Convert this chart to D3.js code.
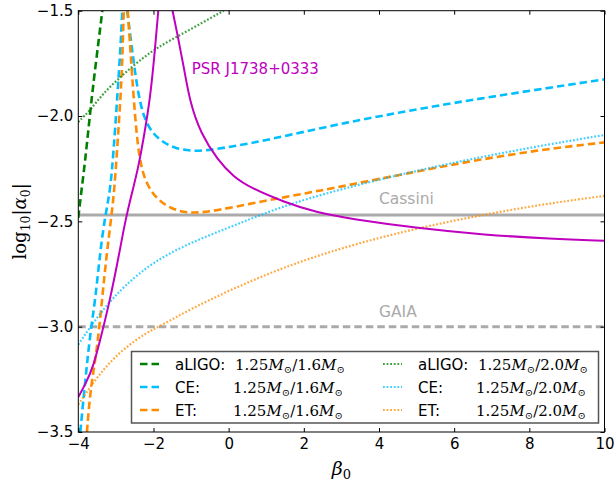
<!DOCTYPE html>
<html>
<head>
<meta charset="utf-8">
<script src="https://d3js.org/d3.v7.min.js"></script>
<style>
    body { margin: 0; background: #fff; }
    svg { display: block; font-family: "DejaVu Sans", sans-serif; }
    .axis path { display: none; }
    .axis line { stroke: #000; stroke-width: 1px; }
    .axis text { font-size: 15px; fill: #000; font-family: "DejaVu Sans", sans-serif; }
    .math { font-family: "DejaVu Serif", serif; }
</style>
</head>
<body>
<svg width="616" height="483"></svg>
<script>
// tick values
var xTicks = [-4, -2, 0, 2, 4, 6, 8, 10];
var yTicks = [-3.5, -3.0, -2.5, -2.0, -1.5];

// [beta0, log10|alpha0|], one array per branch
var aligo16 = [[-4, -2.483], [-3.947, -2.398], [-3.813, -2.209], [-3.68, -1.972], [-3.547, -1.768], [-3.36, -1.5]];
var aligo20 = [[-4, -2.028], [-3.68, -1.972], [-3.333, -1.891], [-2.88, -1.815], [-2.427, -1.744],
    [-1.893, -1.673], [-1.2, -1.607], [-0.133, -1.5]];

var ce16Left = [[-3.947, -3.5], [-3.813, -3.251], [-3.68, -3.028], [-3.547, -2.872], [-3.413, -2.635],
    [-3.28, -2.469], [-3.147, -2.351], [-3.059, -2.161], [-2.968, -1.924], [-2.88, -1.687], [-2.83, -1.5]];
var ce16Right = [[-2.70, -1.5], [-2.568, -1.687], [-2.392, -1.924], [-2.168, -2.052], [-1.813, -2.12],
    [-1.4, -2.155], [-0.94, -2.168], [-0.4, -2.16], [0.57, -2.13], [1.5, -2.095], [3.23, -2.027],
    [4.5, -1.985], [5.89, -1.94], [8, -1.88], [10, -1.826]];
var ce20 = [[-4, -3.085], [-3.68, -3.0], [-3.3, -2.91], [-2.8, -2.81], [-2.0, -2.69], [-1.0, -2.60],
    [0, -2.53], [0.83, -2.47], [2, -2.395], [4, -2.30], [6, -2.22], [8, -2.15], [10, -2.09]];

var et16Left = [[-3.77, -3.5], [-3.68, -3.299], [-3.501, -3.109], [-3.368, -2.872], [-3.235, -2.635],
    [-3.059, -2.398], [-2.968, -2.161], [-2.88, -1.924], [-2.835, -1.768], [-2.79, -1.5]];
var et16Right = [[-2.685, -1.5], [-2.613, -1.687], [-2.525, -1.924], [-2.392, -2.209], [-2.168, -2.336],
    [-1.813, -2.412], [-1.368, -2.452], [-0.9, -2.462], [-0.3, -2.448], [0.6, -2.415], [1.5, -2.385],
    [2.4, -2.355], [3.25, -2.326], [4.75, -2.272], [6.5, -2.212], [8.3, -2.16], [10, -2.125]];
var et20 = [[-4, -3.37], [-3.68, -3.285], [-3.3, -3.195], [-2.8, -3.105], [-2.2, -3.03], [-1.8, -2.995],
    [-1, -2.915], [0, -2.83], [1, -2.752], [2, -2.685], [3, -2.628], [4, -2.578], [5, -2.535],
    [6, -2.496], [7, -2.462], [8, -2.43], [9, -2.403], [10, -2.379]];

var psrLeft = [[-4, -3.334], [-3.795, -3.267], [-3.601, -3.191], [-3.377, -3.035], [-3.157, -2.873],
    [-2.917, -2.66], [-2.758, -2.503], [-2.571, -2.364], [-2.399, -2.242], [-2.239, -2.081],
    [-2.093, -1.924], [-1.96, -1.687], [-1.872, -1.5]];
var psrRight = [[-1.493, -1.5], [-1.368, -1.607], [-1.192, -1.768], [-1.03, -1.935], [-0.747, -2.081],
    [-0.293, -2.209], [0.133, -2.289], [0.587, -2.341], [1.467, -2.408], [2.373, -2.46], [3.253, -2.488],
    [5.04, -2.533], [6.8, -2.564], [8.587, -2.583], [10, -2.592]];

var cassini = -2.47;
var gaia = -3.0;

var svg = d3.select("svg"),
    margin = {top: 10.7, right: 11.5, bottom: 51, left: 78.3},
    width = +svg.attr("width") - margin.left - margin.right,
    height = +svg.attr("height") - margin.top - margin.bottom;

var x = d3.scaleLinear().domain([-4, 10]).range([0, width]);
var y = d3.scaleLinear().domain([-3.5, -1.5]).range([height, 0]);

var g = svg.append("g").attr("transform", "translate(" + margin.left + "," + margin.top + ")");

g.append("clipPath").attr("id", "clip")
    .append("rect").attr("width", width).attr("height", height);

var plot = g.append("g").attr("clip-path", "url(#clip)");

var line = d3.line()
    .x(function (d) { return x(d[0]); })
    .y(function (d) { return y(d[1]); })
    .curve(d3.curveBasis);

var dashed = "7.5,4", dotted = "1.8,1.8";

// reference lines
plot.append("line")
    .attr("x1", 0).attr("x2", width)
    .attr("y1", y(cassini)).attr("y2", y(cassini))
    .attr("stroke", "#aaaaaa").attr("stroke-width", 3);
plot.append("line")
    .attr("x1", 0).attr("x2", width)
    .attr("y1", y(gaia)).attr("y2", y(gaia))
    .attr("stroke", "#aaaaaa").attr("stroke-width", 3)
    .attr("stroke-dasharray", dashed);

var series = [
    {data: [aligo16], color: "#008000", dash: dashed, w: 2.6, op: 1},
    {data: [ce16Left, ce16Right], color: "#00bfff", dash: dashed, w: 2.6, op: 1},
    {data: [et16Left, et16Right], color: "#ff8c00", dash: dashed, w: 2.6, op: 1},
    {data: [aligo20], color: "#008000", dash: dotted, w: 2.2, op: 0.75},
    {data: [ce20], color: "#00bfff", dash: dotted, w: 2.2, op: 0.75},
    {data: [et20], color: "#ff8c00", dash: dotted, w: 2.2, op: 0.75},
    {data: [psrLeft, psrRight], color: "#bf00bf", dash: null, w: 2, op: 1}
];

series.forEach(function (s) {
    s.data.forEach(function (branch) {
        plot.append("path")
            .datum(branch)
            .attr("fill", "none")
            .attr("stroke", s.color)
            .attr("stroke-width", s.w)
            .attr("stroke-opacity", s.op)
            .attr("stroke-dasharray", s.dash)
            .attr("d", line);
    });
});

// text annotations
g.append("text").attr("x", x(-0.98)).attr("y", y(-1.80))
    .attr("fill", "#bf00bf").style("font-size", "15px").text("PSR J1738+0333");
g.append("text").attr("x", x(4.0)).attr("y", y(-2.42))
    .attr("fill", "#aaaaaa").style("font-size", "15.5px").text("Cassini");
g.append("text").attr("x", x(4.0)).attr("y", y(-2.953))
    .attr("fill", "#aaaaaa").style("font-size", "15.5px").text("GAIA");

// axes, ticks pointing inward
var fmtY = function (d) { return d3.format(".1f")(d).replace("-", "\u2212"); };
var fmtX = function (d) { return String(d).replace("-", "\u2212"); };

g.append("g").attr("class", "axis")
    .attr("transform", "translate(0," + height + ")")
    .call(d3.axisBottom(x).tickValues(xTicks).tickFormat(fmtX).tickSizeInner(-4).tickSizeOuter(0).tickPadding(6));
g.append("g").attr("class", "axis")
    .call(d3.axisTop(x).tickValues(xTicks).tickFormat("").tickSizeInner(-4).tickSizeOuter(0));
g.append("g").attr("class", "axis")
    .call(d3.axisLeft(y).tickValues(yTicks).tickFormat(fmtY).tickSizeInner(-4).tickSizeOuter(0).tickPadding(5));
g.append("g").attr("class", "axis")
    .attr("transform", "translate(" + width + ",0)")
    .call(d3.axisRight(y).tickValues(yTicks).tickFormat("").tickSizeInner(-4).tickSizeOuter(0));

g.append("rect")
    .attr("width", width).attr("height", height)
    .attr("fill", "none").attr("stroke", "#000").attr("stroke-width", 1);

// legend
var legendRows = [
    {col: 0, row: 0, name: "aLIGO:", mass: "1.6", color: "#008000", dash: dashed, w: 2.6, op: 1},
    {col: 0, row: 1, name: "CE:", mass: "1.6", color: "#00bfff", dash: dashed, w: 2.6, op: 1},
    {col: 0, row: 2, name: "ET:", mass: "1.6", color: "#ff8c00", dash: dashed, w: 2.6, op: 1},
    {col: 1, row: 0, name: "aLIGO:", mass: "2.0", color: "#008000", dash: dotted, w: 2.2, op: 0.75},
    {col: 1, row: 1, name: "CE:", mass: "2.0", color: "#00bfff", dash: dotted, w: 2.2, op: 0.75},
    {col: 1, row: 2, name: "ET:", mass: "2.0", color: "#ff8c00", dash: dotted, w: 2.2, op: 0.75}
];

var legend = svg.append("g");
legend.append("rect")
    .attr("x", 131.5).attr("y", 351.5).attr("width", 467).attr("height", 71.5)
    .attr("fill", "#fff").attr("stroke", "#555").attr("stroke-width", 1.5);

var colX = [140, 383], rowY = [364, 387, 410];

legendRows.forEach(function (r) {
    var lx = colX[r.col], ly = rowY[r.row];
    legend.append("line")
        .attr("x1", lx).attr("x2", lx + 19).attr("y1", ly).attr("y2", ly)
        .attr("stroke", r.color).attr("stroke-width", r.w)
        .attr("stroke-opacity", r.op).attr("stroke-dasharray", r.dash);
    legend.append("text")
        .attr("x", lx + 35).attr("y", ly + 5.5)
        .style("font-size", "15px").text(r.name);
    var t = legend.append("text").attr("class", "math")
        .attr("x", lx + (r.name === "aLIGO:" ? 95 : 93)).attr("y", ly + 5.5)
        .style("font-size", "15px");
    t.append("tspan").text("1.25");
    t.append("tspan").style("font-style", "italic").text("M");
    t.append("tspan").attr("dy", 3).style("font-size", "10px").text("\u2299");
    t.append("tspan").attr("dy", -3).text("/" + r.mass);
    t.append("tspan").style("font-style", "italic").text("M");
    t.append("tspan").attr("dy", 3).style("font-size", "10px").text("\u2299");
});

// axis titles
var xl = svg.append("text").attr("class", "math")
    .attr("x", margin.left + width / 2).attr("y", 475)
    .attr("text-anchor", "middle").style("font-size", "19px");
xl.append("tspan").style("font-style", "italic").text("\u03b2");
xl.append("tspan").attr("dy", 4).style("font-size", "13px").text("0");

var yl = svg.append("text").attr("class", "math")
    .attr("transform", "translate(26," + (margin.top + height / 2) + ") rotate(-90)")
    .attr("text-anchor", "middle").style("font-size", "18px");
yl.append("tspan").text("log");
yl.append("tspan").attr("dy", 4).style("font-size", "12.5px").text("10");
yl.append("tspan").attr("dy", -4).text("|");
yl.append("tspan").style("font-style", "italic").text("\u03b1");
yl.append("tspan").attr("dy", 4).style("font-size", "12.5px").text("0");
yl.append("tspan").attr("dy", -4).text("|");
</script>
</body>
</html>
